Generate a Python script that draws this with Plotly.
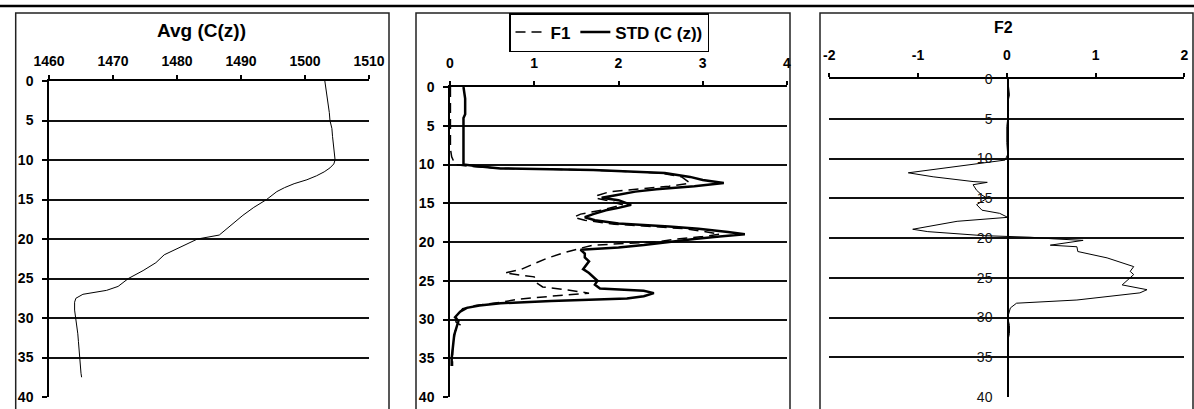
import plotly.graph_objects as go

W, H = 1194, 409


def px(x):
    return x / W


def py(y):
    return 1 - y / H


# ---------------- data ----------------
avg_depth = [0, 1, 2, 3, 4, 5, 6, 7, 8, 9, 10, 10.5, 11, 11.5, 12, 12.5, 13, 13.5, 14, 15,
             16, 17, 18, 19, 19.5, 20, 21, 22, 23, 24, 25, 26, 26.5, 27, 27.5, 28, 29, 30,
             31, 32, 33, 34, 35, 36, 37, 37.5]
avg_c = [1503.1, 1503.3, 1503.5, 1503.6, 1503.8, 1503.9, 1504.2, 1504.3, 1504.4, 1504.5,
         1504.7, 1504.5, 1503.9, 1503.0, 1501.8, 1500.3, 1498.3, 1496.8, 1495.6, 1494.0,
         1492.0, 1490.3, 1488.8, 1487.4, 1486.6, 1483.2, 1480.7, 1478.0, 1476.7, 1474.7,
         1472.4, 1470.8, 1469.0, 1465.3, 1464.2, 1464.0, 1464.0, 1464.2, 1464.4, 1464.5,
         1464.6, 1464.7, 1464.7, 1464.8, 1465.0, 1465.1]

std_depth = [0, 1, 1.5, 3.5, 4, 5, 7, 9, 10, 10.2, 10.5, 10.7, 11.1, 11.6, 12.0, 12.4, 12.8,
             13.2, 13.5, 14.0, 14.3, 14.6, 15.2, 15.6, 15.9, 16.4, 16.8, 17.2, 17.6, 18.0,
             18.3, 18.7, 19.0, 19.3, 19.6, 20.0, 20.4, 20.7, 21.0, 21.5, 22.0, 22.5, 23.0,
             23.5, 24.0, 24.5, 25.0, 25.5, 26.0, 26.3, 26.6, 27.0, 27.3, 27.6, 27.9, 28.2,
             28.5, 29.0, 29.7, 30.2, 31, 32, 33, 34, 35, 36]
std_c = [0.16, 0.17, 0.18, 0.18, 0.16, 0.16, 0.16, 0.16, 0.16, 0.3, 0.6, 1.7, 2.55, 2.85,
         3.0, 3.25, 2.9, 2.45, 2.2, 1.95, 1.8, 2.0, 2.15, 2.0, 1.85, 1.7, 1.6, 1.72, 2.0,
         2.6, 2.95, 3.3, 3.5, 3.2, 2.9, 2.6, 2.3, 2.0, 1.55, 1.6, 1.6, 1.65, 1.62, 1.58,
         1.65, 1.7, 1.75, 1.72, 1.78, 2.3, 2.42, 2.3, 2.1, 1.2, 0.6, 0.35, 0.2, 0.12, 0.06,
         0.1, 0.08, 0.05, 0.04, 0.03, 0.02, 0.02]

f1_depth = [0, 5, 8, 9, 10, 10.2, 10.5, 10.7, 11.1, 11.6, 12.0, 12.4, 12.8, 13.2, 13.5, 14.0,
            14.3, 14.6, 15.2, 15.6, 15.9, 16.4, 16.8, 17.2, 17.7, 18.0, 18.3, 18.7, 19.0,
            19.3, 19.6, 20.0, 20.4, 20.8, 21.4, 22.1, 23.0, 23.5, 24.0, 24.5, 25.3, 25.8,
            26.2, 26.6, 27.0, 27.4, 27.8, 28.2, 28.6, 29.5, 30.3, 30.7, 31.5, 33, 34, 36]
f1_val = [0.005, 0.005, 0.005, 0.02, 0.06, 0.2, 0.6, 1.65, 2.5, 2.75, 2.8, 2.85, 2.6, 2.2,
          1.9, 1.75, 1.72, 1.85, 2.05, 1.9, 1.8, 1.55, 1.47, 1.6, 1.95, 2.4, 2.8, 3.05, 3.2,
          3.0, 2.7, 2.45, 1.7, 1.55, 1.35, 1.15, 0.95, 0.85, 0.65, 1.0, 1.03, 1.1, 1.4, 1.65,
          1.2, 0.8, 0.6, 0.3, 0.15, 0.08, 0.07, 0.12, 0.06, 0.04, 0.03, 0.03]

f2_depth = [0, 1, 2, 3, 4, 5, 6, 8, 9.5, 10.2, 10.6, 11.8, 12.3, 12.9, 13.0, 13.3, 14.0, 14.6,
            15.0, 15.8, 16.5, 16.9, 17.4, 17.9, 18.9, 19.2, 19.7, 19.9, 20.1, 20.3, 20.9,
            21.1, 21.7, 22.5, 23.6, 24.2, 24.6, 25.0, 25.9, 26.5, 26.9, 27.8, 28.2, 28.8,
            30.0, 31.0, 32.0, 32.5]
f2_val = [0.01, 0.02, 0.03, 0.01, 0.02, 0.01, 0.0, 0.0, 0.01, -0.02, -0.3, -1.11, -0.83,
          -0.38, -0.22, -0.38, -0.34, -0.28, -0.22, -0.34, -0.28, -0.08, 0.01, -0.56, -1.06,
          -0.89, -0.27, 0.26, 0.52, 0.86, 0.49, 0.79, 0.8, 1.13, 1.43, 1.39, 1.43, 1.39, 1.3,
          1.58, 1.5, 0.79, 0.11, 0.04, 0.01, 0.03, 0.03, 0.02]

x1_ticks = [1460, 1470, 1480, 1490, 1500, 1510]
x2_ticks = [0, 1, 2, 3, 4]
x3_ticks = [-2, -1, 0, 1, 2]
x3_labels = ["-2", "-1", "0", "1", "2"]
y_ticks = [0, 5, 10, 15, 20, 25, 30, 35, 40]

title1 = "Avg (C(z))"
title3 = "F2"

# ---------------- figure ----------------
FONT = "Arial, Liberation Sans, sans-serif"
bold_tick = dict(family=FONT, size=14, color="black", weight="bold")

fig = go.Figure()
fig.add_trace(go.Scatter(x=avg_c, y=avg_depth, xaxis="x", yaxis="y", mode="lines",
                         line=dict(color="black", width=1), showlegend=False))
fig.add_trace(go.Scatter(x=f1_val, y=f1_depth, xaxis="x2", yaxis="y2", mode="lines",
                         name="F1", line=dict(color="black", width=1.5, dash="10px,6px")))
fig.add_trace(go.Scatter(x=std_c, y=std_depth, xaxis="x2", yaxis="y2", mode="lines",
                         name="STD (C (z))", line=dict(color="black", width=2.5)))
fig.add_trace(go.Scatter(x=f2_val, y=f2_depth, xaxis="x3", yaxis="y3", mode="lines",
                         line=dict(color="black", width=1), showlegend=False))

xcommon = dict(side="top", ticks="outside", ticklen=4, tickwidth=1.5, tickcolor="black",
               showline=True, linecolor="black", linewidth=1.5, showgrid=False,
               zeroline=False, tickfont=bold_tick, fixedrange=True, automargin=False)
ycommon = dict(range=[40, 0], tickvals=y_ticks, showgrid=True, gridcolor="#111111",
               gridwidth=1.5, zeroline=False, fixedrange=True, automargin=False)

fig.update_layout(
    width=W, height=H, autosize=False,
    margin=dict(l=0, r=0, t=0, b=0, pad=0, autoexpand=False),
    paper_bgcolor="white", plot_bgcolor="white",
    font=dict(family=FONT, color="black"),
    xaxis=dict(domain=[px(49), px(369)], anchor="y", range=[1460, 1510],
               tickvals=x1_ticks, ticklabelstandoff=4, **xcommon),
    yaxis=dict(domain=[py(397), py(81)], anchor="x", ticks="outside", ticklen=5,
               tickwidth=1.5, tickcolor="black", showline=True, linecolor="black",
               linewidth=1.5, tickfont=bold_tick, ticklabelstandoff=6, **ycommon),
    xaxis2=dict(domain=[px(450), px(787)], anchor="y2", range=[0, 4],
                tickvals=x2_ticks, ticklabelstandoff=8, **xcommon),
    yaxis2=dict(domain=[py(397), py(87)], anchor="x2", ticks="outside", ticklen=5,
                tickwidth=1.5, tickcolor="black", showline=True, linecolor="black",
                linewidth=1.5, tickfont=bold_tick, ticklabelstandoff=6, **ycommon),
    xaxis3=dict(domain=[px(829.3), px(1184.3)], anchor="y3", range=[-2, 2],
                tickvals=x3_ticks, ticktext=x3_labels, ticklabelstandoff=8, **xcommon),
    yaxis3=dict(domain=[py(397), py(79)], anchor="free", position=px(1008),
                ticks="", showline=True, linecolor="black", linewidth=1.5,
                tickfont=dict(family=FONT, size=14, color="#111111"),
                ticklabelstandoff=12, **ycommon),
    legend=dict(orientation="h", x=px(509), y=py(13), xanchor="left", yanchor="top",
                bgcolor="white", bordercolor="black", borderwidth=1.5,
                font=dict(family=FONT, size=17, color="black", weight="bold"),
                itemclick=False, itemdoubleclick=False, tracegroupgap=0),
    showlegend=True,
)

# titles
fig.add_annotation(x=px(201), y=py(31), xref="paper", yref="paper", text=title1,
                   showarrow=False, xanchor="center", yanchor="middle",
                   font=dict(family=FONT, size=19, color="black", weight="bold"))
fig.add_annotation(x=px(1003), y=py(28), xref="paper", yref="paper", text=title3,
                   showarrow=False, xanchor="center", yanchor="middle",
                   font=dict(family=FONT, size=16, color="black", weight="bold"))

# frame lines: top rule and panel borders
shapes = [dict(type="line", xref="paper", yref="paper", x0=0, x1=1, y0=py(6), y1=py(6),
               line=dict(color="black", width=2.5))]
for (l, r) in [(15.7, 389), (416, 790), (820, 1193)]:
    shapes.append(dict(type="rect", xref="paper", yref="paper", x0=px(l), x1=px(r),
                       y0=py(412), y1=py(13), line=dict(color="#222222", width=1.5),
                       fillcolor="rgba(0,0,0,0)", layer="below"))
fig.update_layout(shapes=shapes)

fig.write_html("out.html", config={"displayModeBar": False},
               post_script="document.body.style.margin='0';document.body.style.overflow='hidden';")
